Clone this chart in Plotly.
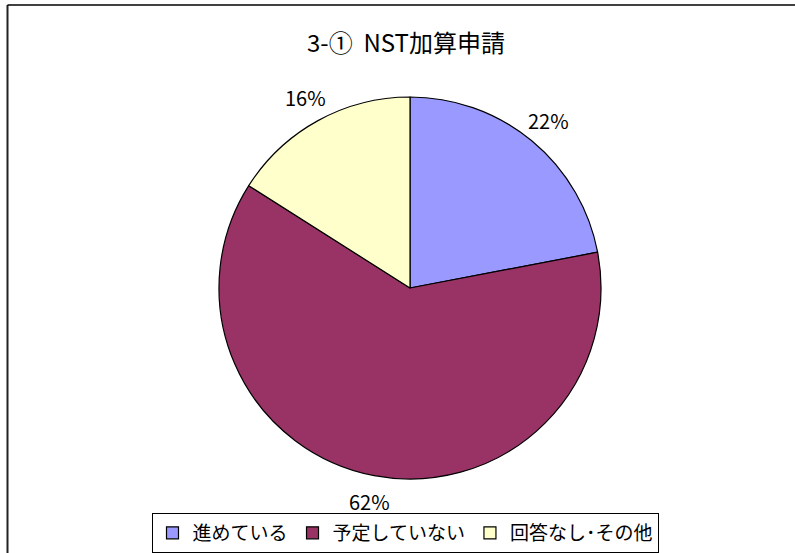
import math
import plotly.graph_objects as go

# ---- data ----
labels = ["進めている", "予定していない", "回答なし･その他"]
values = [22, 62, 16]
pct_text = ["22%", "62%", "16%"]
colors = ["#9999FF", "#993366", "#FFFFCC"]
title_text = "3-①  NST加算申請"

W, H = 795, 553
FONT = "Noto Sans CJK JP, Noto Sans, sans-serif"

# pie geometry (pixels)
cx, cy, r = 410, 288, 191
dom_x = [(cx - r) / W, (cx + r) / W]
dom_y = [(H - (cy + r)) / H, (H - (cy - r)) / H]

fig = go.Figure(go.Pie(
    labels=labels, values=values, sort=False, direction="clockwise", rotation=0,
    marker=dict(colors=colors, line=dict(color="black", width=1.2)),
    textinfo="none", hoverinfo="label+percent",
    domain=dict(x=dom_x, y=dom_y),
))

# outside labels positioned from slice mid-angles
total = sum(values)
cum = 0
annotations = []
for v, t in zip(values, pct_text):
    mid = (cum + v / 2) / total * 2 * math.pi
    cum += v
    d = r * 1.14
    px = cx + d * math.sin(mid)
    py = cy - d * math.cos(mid)
    annotations.append(dict(
        x=px / W, y=1 - py / H, xref="paper", yref="paper", text=t, showarrow=False,
        borderpad=0,
        font=dict(family=FONT, size=20, color="black"), xanchor="center", yanchor="middle"))

annotations.append(dict(
    x=406 / W, y=1 - 41 / H, xref="paper", yref="paper", text=title_text, showarrow=False,
    font=dict(family=FONT, size=24, color="black"), xanchor="center", yanchor="middle"))

fig.update_layout(
    width=W, height=H,
    margin=dict(l=0, r=0, t=0, b=0),
    paper_bgcolor="white", plot_bgcolor="white",
    annotations=annotations,
    showlegend=True,
    legend=dict(
        orientation="h", x=405 / W, xanchor="center", y=1 - 533 / H, yanchor="middle",
        bordercolor="black", borderwidth=1, bgcolor="white",
        font=dict(family=FONT, size=19, color="black"),
        itemwidth=30, tracegroupgap=0,
    ),
    shapes=[
        dict(type="line", xref="paper", yref="paper", x0=7.5 / W, x1=7.5 / W, y0=-0.05, y1=1 - 5 / H,
             line=dict(color="#222222", width=2)),
        dict(type="line", xref="paper", yref="paper", x0=7.5 / W, x1=1.05, y0=1 - 5 / H, y1=1 - 5 / H,
             line=dict(color="black", width=1.5)),
    ],
)

fig.write_html("out.html", config={"displayModeBar": False},
               post_script="document.body.style.margin='0px';")
